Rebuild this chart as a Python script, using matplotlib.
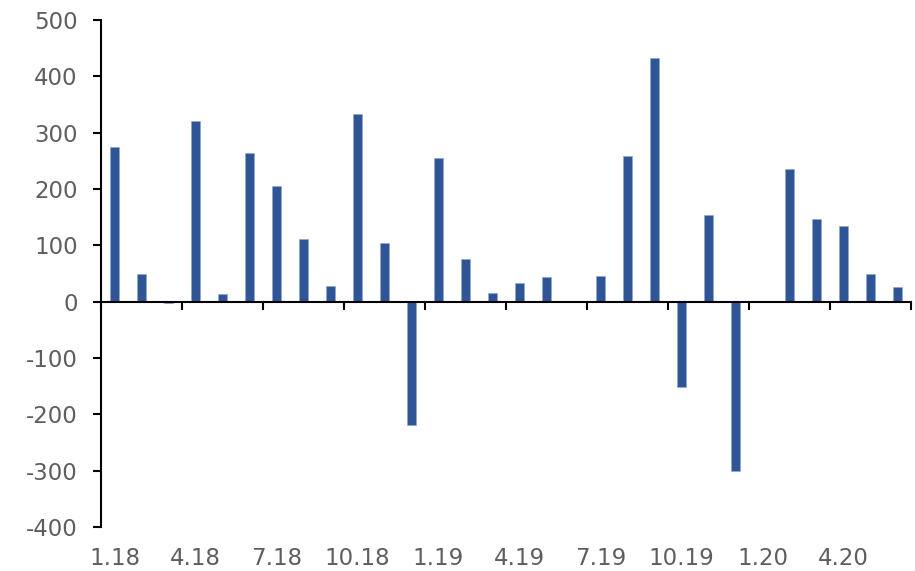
import matplotlib
matplotlib.use("Agg")
import matplotlib.pyplot as plt
import matplotlib.transforms as mtransforms
import numpy as np

plt.rcParams["axes.unicode_minus"] = False

values = [274, 49, -2, 321, 13, 264, 205, 112, 28, 334, 104, -219,
          255, 75, 15, 34, 44, 0, 46, 258, 432, -151, 154, -300,
          2, 235, 146, 134, 50, 26]
tick_labels = ["1.18", "4.18", "7.18", "10.18", "1.19", "4.19", "7.19",
               "10.19", "1.20", "4.20"]

bar_color = "#2F5597"
text_color = "#5E5E5E"

fig = plt.figure(figsize=(9.15, 5.71), dpi=100)
ax = fig.add_axes([101/915, 44/571, 810/915, 507/571])

x = np.arange(len(values))
ax.bar(x, values, width=0.32, color=bar_color, edgecolor="#8FA6CF", linewidth=0.4)

ax.set_xlim(-0.5, len(values) - 0.5)
ax.set_ylim(-400, 500)
ax.set_yticks(np.arange(-400, 501, 100))

for s in ["top", "right"]:
    ax.spines[s].set_visible(False)
ax.spines["bottom"].set_position(("data", 0))
ax.spines["left"].set_linewidth(1.5)
ax.spines["bottom"].set_linewidth(1.5)

ax.set_xticks(np.arange(-0.5, len(values), 3))
ax.set_xticklabels([])
ax.tick_params(axis="x", direction="out", length=6, width=1.5)
ax.tick_params(axis="y", direction="out", length=5.8, width=1.5, pad=11,
               labelsize=16.5, labelcolor=text_color)

trans = mtransforms.blended_transform_factory(ax.transData, ax.transAxes)
for i, lab in enumerate(tick_labels):
    ax.text(i * 3, -0.062, lab, transform=trans, ha="center", va="center",
            fontsize=16.5, color=text_color)

fig.savefig("out.png", dpi=100)
